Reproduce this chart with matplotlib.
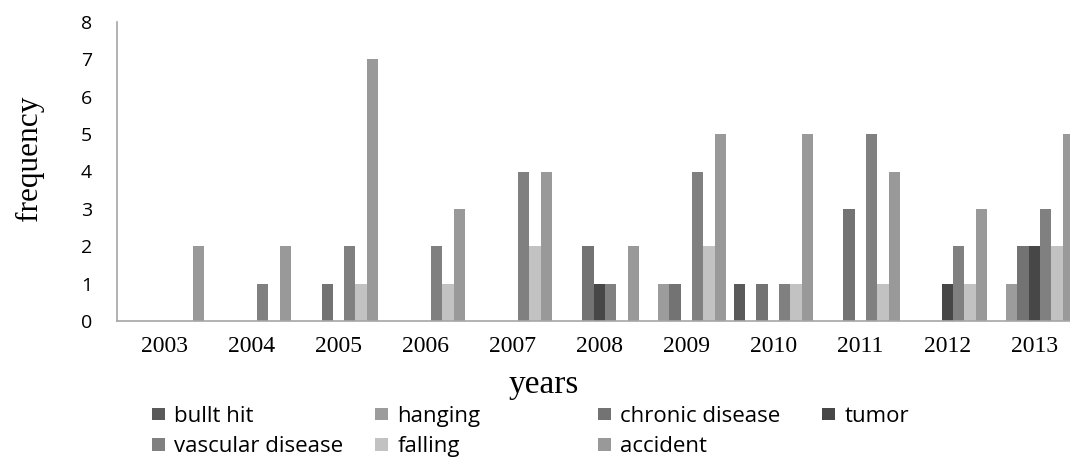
import matplotlib.pyplot as plt
import numpy as np

years = ['2003', '2004', '2005', '2006', '2007', '2008', '2009', '2010', '2011', '2012', '2013']
causes = ['bullt hit', 'hanging', 'chronic disease', 'tumor',
          'vascular disease', 'falling', 'accident']

bullt_hit = [0, 0, 0, 0, 0, 0, 0, 1, 0, 0, 0]
hanging = [0, 0, 0, 0, 0, 0, 1, 0, 0, 0, 1]
chronic_disease = [0, 0, 1, 0, 0, 2, 1, 1, 3, 0, 2]
tumor = [0, 0, 0, 0, 0, 1, 0, 0, 0, 1, 2]
vascular_disease = [0, 1, 2, 2, 4, 1, 4, 1, 5, 2, 3]
falling = [0, 0, 1, 1, 2, 0, 2, 1, 1, 1, 2]
accident = [2, 2, 7, 3, 4, 2, 5, 5, 4, 3, 5]

series = [bullt_hit, hanging, chronic_disease, tumor, vascular_disease, falling, accident]
colors = ['#5a5a5a', '#9c9c9c', '#737373', '#474747', '#808080', '#c2c2c2', '#999999']

W, H = 1070, 470
fig = plt.figure(figsize=(W / 100, H / 100), dpi=100)
ax = fig.add_axes([117 / W, 1 - 321 / H, 1 - 117 / W, 299 / H])

x = np.arange(len(years))
width = 0.13
bars = []
for j, (vals, c) in enumerate(zip(series, colors)):
    b = ax.bar(x + (j - 3) * width, vals, width, color=c, label=causes[j], linewidth=0)
    bars.append(b)

ax.set_xlim(-0.546, 10.41)
ax.set_ylim(0, 8)
ax.set_yticks(range(0, 9))
ax.set_xticks(x)
ax.set_xticklabels(years, fontfamily='Liberation Serif', fontsize=17)
for lab in ax.get_yticklabels():
    lab.set_fontfamily('Open Sans')
    lab.set_fontsize(14)
ax.tick_params(axis='x', length=0, pad=11)
ax.tick_params(axis='y', length=0, pad=18)
for s in ['top', 'right']:
    ax.spines[s].set_visible(False)
for s in ['left', 'bottom']:
    ax.spines[s].set_color('#a6a6a6')
    ax.spines[s].set_linewidth(1.2)

fig.text(29 / W, 1 - 158 / H, 'frequency', rotation=90, ha='center', va='center',
         fontfamily='Liberation Serif', fontsize=22.5)
fig.text(544 / W, 1 - 393 / H, 'years', ha='center', va='baseline',
         fontfamily='Liberation Serif', fontsize=24)

# legend laid out in fixed-width columns, filled row by row
columns = [[0, 4], [1, 5], [2, 6], [3]]
col_x = [152, 375, 598, 822]
for cols, cx in zip(columns, col_x):
    fig.legend([bars[k] for k in cols], [causes[k] for k in cols],
               loc='upper left', bbox_to_anchor=(cx / W, 1 - 406 / H),
               frameon=False, borderpad=0, borderaxespad=0,
               handlelength=0.6, handleheight=0.5, handletextpad=0.4,
               labelspacing=0.42, prop={'family': 'Open Sans', 'size': 16})

fig.savefig('out.png', dpi=100)
